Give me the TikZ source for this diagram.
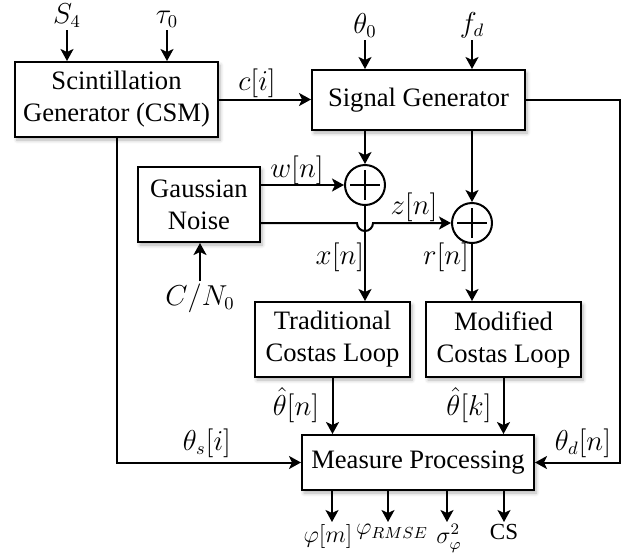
\documentclass[tikz,border=0pt]{standalone}
\usepackage{fontspec}
\setmainfont{Liberation Serif}
\usetikzlibrary{arrows.meta, shadows, shadows.blur}

\begin{document}
\begin{tikzpicture}[x=0.5pt, y=-0.5pt,
  font=\fontsize{13.3}{16}\selectfont,
  blk/.style={draw, line width=1pt, fill=white, align=center, inner sep=0pt,
    blur shadow={shadow blur steps=6, shadow xshift=1pt, shadow yshift=-1.5pt, shadow opacity=30}},
  sum/.style={draw, circle, line width=1pt, fill=white, minimum size=20pt, inner sep=0pt,
    path picture={\draw[line width=1pt]
      ([yshift=7.5pt]path picture bounding box.center) -- ([yshift=-7.5pt]path picture bounding box.center)
      ([xshift=-7.5pt]path picture bounding box.center) -- ([xshift=7.5pt]path picture bounding box.center);}},
  arr/.style={line width=1pt, -{Stealth[length=6pt, width=6.5pt, inset=1.5pt]}},
  lbl/.style={inner sep=1pt},
  olbl/.style={inner sep=1pt, anchor=north, font=\fontsize{11.5}{14}\selectfont}
]
  \useasboundingbox (0,0) rectangle (622,553);

  \node[blk, minimum width=101.5pt, minimum height=37.5pt] (csm) at (116.5,99.5) {Scintillation\\Generator (CSM)};
  \node[blk, minimum width=106.5pt, minimum height=30pt] (sig) at (418.5,100) {Signal Generator};
  \node[blk, minimum width=61pt, minimum height=37.5pt] (gn) at (199,204.5) {Gaussian\\Noise};
  \node[sum] (add1) at (365,185) {};
  \node[sum] (add2) at (472,223) {};
  \node[blk, minimum width=77.5pt, minimum height=37.5pt] (tcl) at (332.5,339.5) {Traditional\\Costas Loop};
  \node[blk, minimum width=77.5pt, minimum height=37.5pt] (mcl) at (503.5,339.5) {Modified\\Costas Loop};
  \node[blk, minimum width=116pt, minimum height=27.5pt] (mp) at (418,462.5) {Measure Processing};

  \node[lbl, anchor=south] (s4) at (67,30) {$S_4$};
  \node[lbl, anchor=south] (tau) at (167,30) {$\tau_0$};
  \node[lbl, anchor=south] (th0) at (365,40) {$\theta_0$};
  \node[lbl, anchor=south] (fd) at (472,40) {$f_d$};
  \node[lbl, anchor=north] (cn) at (200,281) {$C/N_0$};

  \node[lbl] (ci) at (257,83) {$c[i]$};
  \node[lbl] (wn) at (297,170) {$w[n]$};
  \node[lbl] (zn) at (414,207) {$z[n]$};
  \node[lbl] (xn) at (340,257) {$x[n]$};
  \node[lbl] (rn) at (446,257) {$r[n]$};
  \node[lbl] (thn) at (296,405) {$\hat{\theta}[n]$};
  \node[lbl] (thk) at (469,405) {$\hat{\theta}[k]$};
  \node[lbl] (ths) at (207,443) {$\theta_s[i]$};
  \node[lbl] (thd) at (583,443) {$\theta_d[n]$};

  \node[olbl] (phim) at (328,522) {$\varphi[m]$};
  \node[olbl] (phir) at (392,522) {$\varphi_{RMSE}$};
  \node[olbl] (sig2) at (449,522) {$\sigma_\varphi^2$};
  \node[olbl] (cs) at (504,522) {CS};

  \draw[arr] (s4) -- (s4 |- csm.north);
  \draw[arr] (tau) -- (tau |- csm.north);
  \draw[arr] (th0) -- (th0 |- sig.north);
  \draw[arr] (fd) -- (fd |- sig.north);
  \draw[arr] (csm.east) -- (csm.east -| sig.west);
  \draw[arr] (add1 |- sig.south) -- (add1.north);
  \draw[arr] (add2 |- sig.south) -- (add2.north);
  \draw[arr] (gn.east |- add1) -- (add1.west);
  \coordinate (hop) at (add1 |- add2);
  \draw[arr] (gn.east |- add2) -- ([xshift=-4pt]hop) arc[start angle=180, end angle=360, radius=4pt] -- (add2.west);
  \draw[arr] (cn) -- (cn |- gn.south);
  \draw[arr] (add1.south) -- (add1 |- tcl.north);
  \draw[arr] (add2.south) -- (add2 |- mcl.north);
  \draw[arr] (tcl.south) -- (tcl.south |- mp.north);
  \draw[arr] (mcl.south) -- (mcl.south |- mp.north);
  \draw[arr] (csm.south) |- (mp.west);
  \coordinate (rt) at (620,100);
  \draw[arr] (sig.east) -- (rt) |- (mp.east);
  \draw[arr] (mp.south -| 332,0) -- (phim.north -| 332,0);
  \draw[arr] (mp.south -| 388,0) -- (phir.north -| 388,0);
  \draw[arr] (mp.south -| 447,0) -- (sig2.north -| 447,0);
  \draw[arr] (mp.south -| cs.north) -- (cs.north);
\end{tikzpicture}
\end{document}
